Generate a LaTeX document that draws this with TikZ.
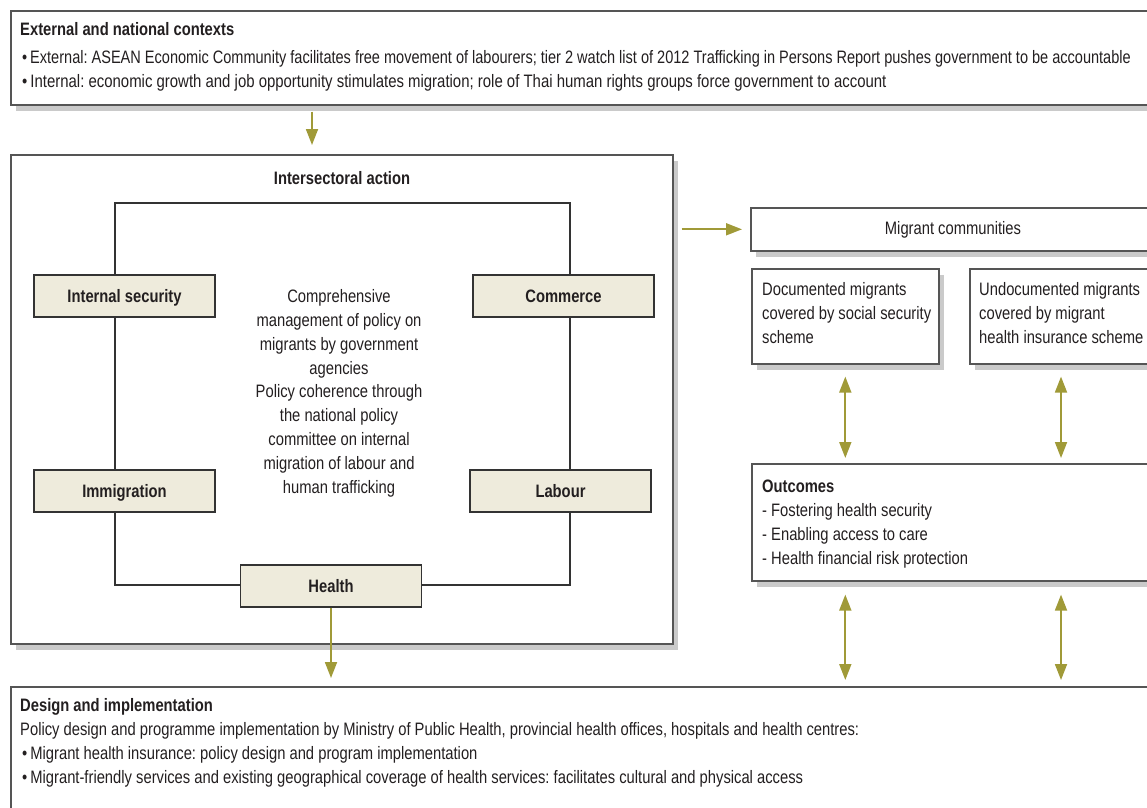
\documentclass[tikz,border=0pt]{standalone}
\usepackage{fontspec}
\setmainfont{Liberation Sans}[FakeStretch=0.82]
\usetikzlibrary{arrows.meta,shadows}
\definecolor{olivearr}{HTML}{A09A38}
\definecolor{bordergray}{HTML}{555555}
\definecolor{shadowgray}{HTML}{CACACA}
\definecolor{sectorfill}{HTML}{EEEBDC}
\definecolor{textdark}{HTML}{231F20}
\frenchspacing
\begin{document}
\begin{tikzpicture}[x=1pt,y=-1pt,
  font=\fontsize{18}{23.9}\selectfont, text=textdark,
  box/.style={draw=bordergray, line width=1.6pt, fill=white, anchor=north west, inner sep=0pt,
    drop shadow={shadow xshift=5pt, shadow yshift=-6pt, fill=shadowgray, opacity=1}},
  txt/.style={anchor=base west, inner sep=0pt},
  ttl/.style={anchor=base west, inner sep=0pt, font=\bfseries\fontsize{18}{23.9}\selectfont},
  sector/.style={draw=black!80, line width=1.3pt, fill=sectorfill, minimum width=181pt,
    minimum height=42pt, text height=13pt, text depth=0pt, inner sep=0pt,
    font=\bfseries\fontsize{18}{23.9}\selectfont},
  frame/.style={draw=black!80, line width=1.2pt},
  arr/.style={draw=olivearr, line width=1.8pt, -{Triangle[width=12pt,length=16pt]}},
  darr/.style={draw=olivearr, line width=1.8pt, {Triangle[width=12pt,length=16pt]}-{Triangle[width=12pt,length=16pt]}}
]
\useasboundingbox (0,0) rectangle (1147,807);
\clip (0,0) rectangle (1147,807);

% boxes
\node[box, minimum width=1160pt, minimum height=94pt] (ext) at (10,10) {};
\node[box, minimum width=662pt, minimum height=489pt] (ia) at (10,154) {};
\node[box, minimum width=410pt, minimum height=43pt] (mc) at (750,207) {};
\node[box, minimum width=187pt, minimum height=95pt] (doc) at (751,268) {};
\node[box, minimum width=200pt, minimum height=95pt] (undoc) at (969,268) {};
\node[box, minimum width=410pt, minimum height=117pt] (out) at (751,463) {};
\node[box, minimum width=1160pt, minimum height=140pt] (des) at (10,686) {};

% top box text
\node[ttl] (extT) at (20,35) {External and national contexts};
\node[txt, xscale=0.985, transform shape] (ext1) at (22,63) {•\,External: ASEAN Economic Community facilitates free movement of labourers; tier 2 watch list of 2012 Trafficking in Persons Report pushes government to be accountable};
\node[txt, xscale=1.012, transform shape] (ext2) at (22,87) {•\,Internal: economic growth and job opportunity stimulates migration; role of Thai human rights groups force government to account};

% intersectoral
\node[anchor=base, inner sep=0pt, font=\bfseries\fontsize{18}{23.9}\selectfont] (iaT) at (342,184) {Intersectoral action};
\coordinate (fr1) at (115,203);
\coordinate (fr2) at (570,585);
\draw[frame] (fr1) rectangle (fr2);
\node[sector] (is) at (124.5,296) {Internal security};
\node[sector] (comm) at (563.5,296) {Commerce};
\node[sector] (imm) at (124.5,491) {Immigration};
\node[sector] (lab) at (560.5,491) {Labour};
\node[sector] (health) at (331,586) {Health};
\node[align=center, anchor=base, inner sep=0pt] (ctext) at (339,493.5) {Comprehensive\\management of policy on\\migrants by government\\agencies\\Policy coherence through\\the national policy\\committee on internal\\migration of labour and\\human trafficking};

% right side texts
\node[anchor=base, inner sep=0pt] (mcT) at (953,234) {Migrant communities};
\node[txt] (doc1) at (762,295) {Documented migrants};
\node[txt] (doc2) at (762,319) {covered by social security};
\node[txt] (doc3) at (762,343) {scheme};
\node[txt] (und1) at (979,295) {Undocumented migrants};
\node[txt] (und2) at (979,319) {covered by migrant};
\node[txt] (und3) at (979,343) {health insurance scheme};
\node[ttl] (outT) at (762,492) {Outcomes};
\node[txt] (out1) at (762,516) {- Fostering health security};
\node[txt] (out2) at (762,540) {- Enabling access to care};
\node[txt] (out3) at (762,564) {- Health financial risk protection};

% bottom texts
\node[ttl] (desT) at (20,711) {Design and implementation};
\node[txt] (des0) at (20,735) {Policy design and programme implementation by Ministry of Public Health, provincial health offices, hospitals and health centres:};
\node[txt] (des1) at (22,759) {•\,Migrant health insurance: policy design and program implementation};
\node[txt] (des2) at (22,783) {•\,Migrant-friendly services and existing geographical coverage of health services: facilitates cultural and physical access};

% arrows
\draw[arr] ([shift={(302,6)}]ext.south west) -- ([shift={(302,-9)}]ia.north west);
\draw[arr] (health.south) -- ([yshift=8pt]health.south |- des.north);
\draw[arr] ([xshift=8pt]ia.east |- mc.west) -- ([xshift=-8pt]mc.west);
\draw[darr] ([yshift=-12pt]doc.south) -- ([yshift=5pt]doc.south |- out.north);
\draw[darr] ([shift={(92,12)}]undoc.south west) -- ([shift={(92,-5)}]undoc.south west |- out.north west);
\draw[darr] ([yshift=-13pt]doc.south |- out.south) -- ([yshift=6pt]doc.south |- des.north);
\draw[darr] ([shift={(92,13)}]undoc.south west |- out.south west) -- ([shift={(92,-6)}]undoc.south west |- des.north west);
\end{tikzpicture}
\end{document}
